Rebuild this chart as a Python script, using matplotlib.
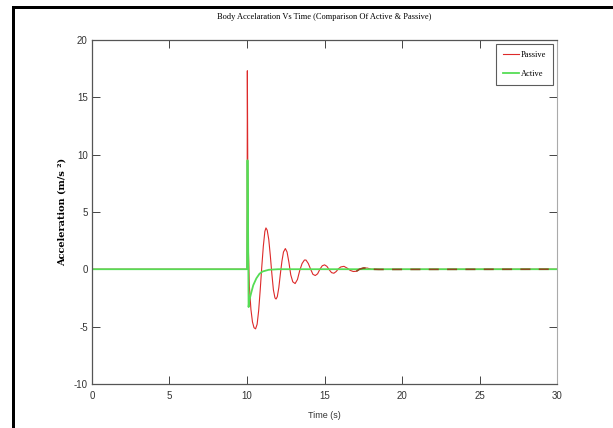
import matplotlib
matplotlib.use('Agg')
import matplotlib.pyplot as plt
from matplotlib.patches import Rectangle

plt.rcParams['axes.unicode_minus'] = False

# passive suspension body acceleration
t_passive = [0, 10.0, 10.02, 10.05, 10.08, 10.15, 10.25, 10.35, 10.45, 10.55, 10.65,
             10.75, 10.85, 10.95, 11.05, 11.15, 11.22, 11.3, 11.4, 11.5, 11.6, 11.7,
             11.8, 11.87, 11.95, 12.05, 12.15, 12.25, 12.35, 12.47, 12.58, 12.7, 12.82,
             12.95, 13.1, 13.25, 13.4, 13.55, 13.7, 13.8, 13.95, 14.1, 14.25, 14.4,
             14.55, 14.7, 14.85, 15.0, 15.15, 15.3, 15.45, 15.6, 15.75, 15.9, 16.05,
             16.25, 16.45, 16.65, 16.85, 17.05, 17.25, 17.5, 17.75, 18.0, 18.5, 30]
a_passive = [0, 0, 17.3, 8.0, 2.0, -1.5, -3.5, -4.6, -5.1, -5.2, -4.8,
             -3.6, -1.8, 0.2, 2.0, 3.3, 3.6, 3.4, 2.6, 1.2, -0.4, -1.8,
             -2.5, -2.6, -2.4, -1.6, -0.4, 0.7, 1.5, 1.8, 1.5, 0.6, -0.5,
             -1.1, -1.25, -0.9, -0.1, 0.5, 0.8, 0.8, 0.5, 0.0, -0.45, -0.55,
             -0.4, 0.0, 0.3, 0.38, 0.25, -0.05, -0.3, -0.35, -0.2, 0.05, 0.2,
             0.25, 0.1, -0.1, -0.2, -0.18, 0.0, 0.1, 0.1, 0.0, -0.02, 0]

# active suspension body acceleration
t_active = [0, 10.0, 10.03, 10.07, 10.1, 10.15, 10.28, 10.4, 10.6, 10.8, 11.0, 11.4, 12.0, 30]
a_active = [0, 0, 9.5, 3.0, -3.3, -2.7, -2.0, -1.4, -0.8, -0.4, -0.2, -0.05, 0, 0]

tail_start = 17.0

xticks = [0, 5, 10, 15, 20, 25, 30]
yticks = [-10, -5, 0, 5, 10, 15, 20]

tick_font = ['Liberation Sans', 'DejaVu Sans']
serif = ['Liberation Serif', 'DejaVu Serif']

fig = plt.figure(figsize=(6.13, 4.28), dpi=100)
ax = fig.add_axes([0.150, 0.103, 0.759, 0.804])

ax.plot(t_passive, a_passive, color='#dd2a2a', lw=0.8, label='Passive')
ax.plot(t_active, a_active, color='#55dd55', lw=1.3, label='Active')
# passive tail shows as dark dashes over the green line
tail = [(t, a) for t, a in zip(t_passive, a_passive) if t >= tail_start]
ax.plot([p[0] for p in tail], [p[1] for p in tail], color='#8a4a20', lw=1.2,
        dashes=(6, 5))

ax.set_xlim(0, 30)
ax.set_ylim(-10, 20)
ax.set_xticks(xticks)
ax.set_yticks(yticks)
ax.tick_params(direction='in', length=6, width=0.7, top=True, right=True,
               colors='#444444', labelsize=7, pad=5)
ax.tick_params(axis='y', pad=3)
for lab in ax.get_xticklabels() + ax.get_yticklabels():
    lab.set_family(tick_font)
    lab.set_color('#333333')
for s in ['left', 'bottom', 'top']:
    ax.spines[s].set_color('#555555')
    ax.spines[s].set_linewidth(0.9)
ax.spines['right'].set_color('#aaaaaa')

ax.set_title('Body Accelaration Vs Time (Comparison Of Active & Passive)',
             family=serif, fontsize=6, pad=15)
ax.set_xlabel('Time (s)', family=tick_font, fontsize=6.5, labelpad=7, color='#333333')
ax.set_ylabel('Acceleration (m/s ²)', family=['DejaVu Serif'], fontweight='bold',
              fontsize=7, labelpad=5)

leg = ax.legend(loc='upper right', prop={'family': serif, 'size': 6},
                fancybox=False, edgecolor='#333333', handlelength=2.0,
                borderpad=0.8, labelspacing=1.4, handletextpad=0.2,
                borderaxespad=0.5)
leg.get_frame().set_linewidth(0.8)

# black frame lines from the original screenshot
fig.add_artist(Rectangle((12 / 613, 0), 3 / 613, 1 - 6 / 428,
                         transform=fig.transFigure, color='black', lw=0))
fig.add_artist(Rectangle((12 / 613, 1 - 9 / 428), 1, 3 / 428,
                         transform=fig.transFigure, color='black', lw=0))

fig.savefig('out.png', dpi=100)
